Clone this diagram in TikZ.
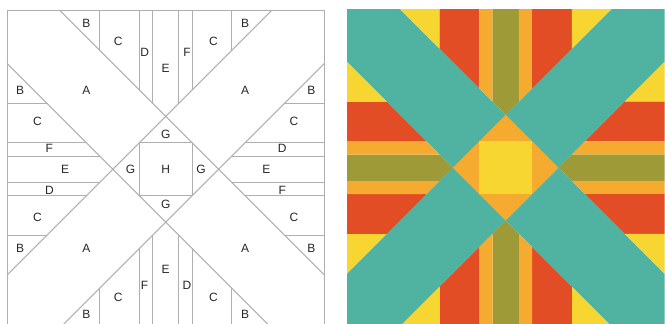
\documentclass[tikz,border=0pt]{standalone}
\usepackage{fontspec}
\setmainfont{Liberation Sans}
\definecolor{qteal}{RGB}{80,179,161}
\definecolor{qyellow}{RGB}{247,214,49}
\definecolor{qred}{RGB}{227,77,37}
\definecolor{qorange}{RGB}{245,170,48}
\definecolor{qolive}{RGB}{158,154,56}
\definecolor{qline}{RGB}{175,175,175}
\begin{document}
\begin{tikzpicture}[x=1pt,y=-1pt]
\tikzset{
  seam/.style={draw=qline, line width=1pt},
  lbl/.style={font=\fontsize{12}{12}\selectfont, text=black!85, inner sep=0pt},
}
\useasboundingbox (0,0) rectangle (665,324);
\clip (0,0) rectangle (665,324);
% ---------- left: line plan ----------
\begin{scope}[shift={(7pt,-10.5pt)},x=26.4583pt,y=-26.4583pt]
  \draw[seam] (0,0) rectangle (12,12);
  \draw[seam] (2,0)--(12,10) (0,2)--(10,12) (10,0)--(0,10) (12,2)--(2,12);
  \draw[seam] (5,5) rectangle (7,7);
  \node[lbl] (LH) at (6,6) {H};
  \foreach \r/\k in {0/a,-90/b,-180/c,-270/d}{
    \begin{scope}[rotate around={\r:(6,6)}]
      \draw[seam] (3.5,0)--(3.5,1.5) (5,0)--(5,3) (5.5,0)--(5.5,3.5)
                  (6.5,0)--(6.5,3.5) (7,0)--(7,3) (8.5,0)--(8.5,1.5);
      \node[lbl] (LB1\k) at (3,0.5) {B};
      \node[lbl] (LC1\k) at (4.2,1.15) {C};
      \node[lbl] (LD\k) at (5.2,1.6) {D};
      \node[lbl] (LE\k) at (6,2.2) {E};
      \node[lbl] (LF\k) at (6.8,1.6) {F};
      \node[lbl] (LC2\k) at (7.8,1.15) {C};
      \node[lbl] (LB2\k) at (9,0.5) {B};
      \node[lbl] (LA\k) at (3,3) {A};
      \node[lbl] (LG\k) at (6,4.67) {G};
    \end{scope}
  }
\end{scope}
% ---------- right: coloured block ----------
\begin{scope}[shift={(347pt,-9pt)},x=26.4583pt,y=-26.4583pt]
  \fill[qteal] (0,0)--(2,0)--(12,10)--(12,12)--(10,12)--(0,2)--cycle;
  \fill[qteal] (12,0)--(12,2)--(2,12)--(0,12)--(0,10)--(10,0)--cycle;
  \fill[qorange] (6,4)--(8,6)--(6,8)--(4,6)--cycle;
  \fill[qyellow] (5,5) rectangle (7,7);
  \foreach \r in {0,-90,-180,-270}{
    \begin{scope}[rotate around={\r:(6,6)}]
      \fill[qyellow] (2,0)--(3.5,0)--(3.5,1.5)--cycle;
      \fill[qred] (3.5,0)--(5,0)--(5,3)--(3.5,1.5)--cycle;
      \fill[qorange] (5,0)--(5.5,0)--(5.5,3.5)--(5,3)--cycle;
      \fill[qolive] (5.5,0)--(6.5,0)--(6.5,3.5)--(6,4)--(5.5,3.5)--cycle;
      \fill[qorange] (6.5,0)--(7,0)--(7,3)--(6.5,3.5)--cycle;
      \fill[qred] (7,0)--(8.5,0)--(8.5,1.5)--(7,3)--cycle;
      \fill[qyellow] (8.5,0)--(10,0)--(8.5,1.5)--cycle;
    \end{scope}
  }
\end{scope}
\end{tikzpicture}
\end{document}
